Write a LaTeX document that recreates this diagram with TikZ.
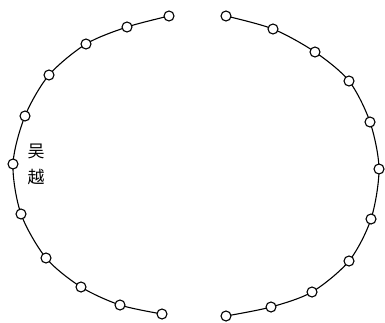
\documentclass[tikz,border=0pt]{standalone}
\usepackage{fontspec}
\newfontfamily\cjk{Noto Sans CJK SC}
\usetikzlibrary{backgrounds}
\tikzset{every node/.style={font=\cjk\fontsize{17}{17}\selectfont}}
\tikzset{station/.style={circle, draw, fill=white, line width=1.1pt, minimum size=10pt, inner sep=0pt}}

\begin{document}
\begin{tikzpicture}[x=1pt, y=-1pt]
  % Page frame.
  \useasboundingbox (0,0) rectangle (385,322);

  % Left arc of stations.
  \foreach \i/\p in {1/{169,16}, 2/{127,27}, 3/{86,44}, 4/{49,75}, 5/{25,116},
                     6/{13,164}, 7/{21,214}, 8/{46,258}, 9/{81,287}, 10/{120,305}, 11/{162,314}}
    \node[station] (l\i) at (\p) {};

  % Right arc of stations.
  \foreach \i/\p in {1/{226,16}, 2/{273,29}, 3/{315,52}, 4/{349,81}, 5/{370,122},
                     6/{379,169}, 7/{371,219}, 8/{349,261}, 9/{312,292}, 10/{271,307}, 11/{226,316}}
    \node[station] (r\i) at (\p) {};

  % Connecting curves, behind the stations.
  \begin{pgfonlayer}{background}
    \draw[line width=1.1pt] plot[smooth, tension=0.5] coordinates {
      (l1.center) (l2.center) (l3.center) (l4.center) (l5.center) (l6.center)
      (l7.center) (l8.center) (l9.center) (l10.center) (l11.center)};
    \draw[line width=1.1pt] plot[smooth, tension=0.5] coordinates {
      (r1.center) (r2.center) (r3.center) (r4.center) (r5.center) (r6.center)
      (r7.center) (r8.center) (r9.center) (r10.center) (r11.center)};
  \end{pgfonlayer}

  % Label.
  \node (wu) at (36,151) {吴};
  \node (yue) at (36,177) {越};
\end{tikzpicture}
\end{document}
